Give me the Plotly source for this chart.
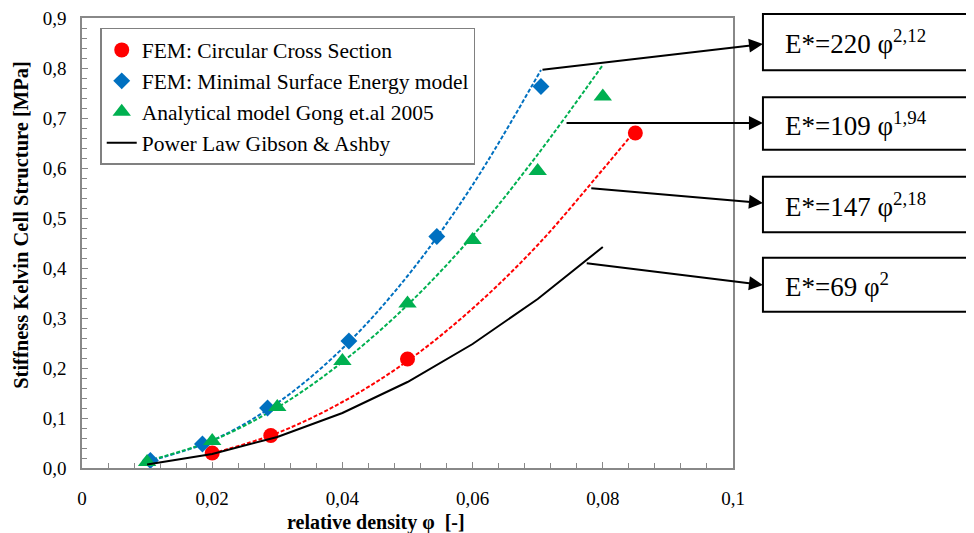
import plotly.graph_objects as go

# ---- data ----
circ_x = [0.020, 0.029, 0.050, 0.085]
circ_y = [0.030, 0.065, 0.218, 0.670]

mse_x = [0.0105, 0.0185, 0.0285, 0.0410, 0.0545, 0.0705]
mse_y = [0.015, 0.048, 0.120, 0.254, 0.463, 0.763]

gong_x = [0.010, 0.020, 0.030, 0.040, 0.050, 0.060, 0.070, 0.080]
gong_y = [0.012, 0.054, 0.122, 0.214, 0.329, 0.456, 0.594, 0.743]

gib_x = [0.010, 0.020, 0.030, 0.040, 0.050, 0.060, 0.070, 0.080]
gib_y = [0.007, 0.028, 0.062, 0.110, 0.172, 0.248, 0.338, 0.442]

# dashed trend lines
trend_circ_x = [0.020, 0.030, 0.040, 0.050, 0.060, 0.070, 0.080, 0.085]
trend_circ_y = [0.029, 0.070, 0.132, 0.214, 0.319, 0.446, 0.597, 0.675]
trend_mse_x = [0.010, 0.020, 0.030, 0.040, 0.050, 0.060, 0.0705]
trend_mse_y = [0.013, 0.055, 0.130, 0.239, 0.384, 0.566, 0.796]
trend_gong_x = [0.010, 0.020, 0.030, 0.040, 0.050, 0.060, 0.070, 0.080]
trend_gong_y = [0.014, 0.055, 0.121, 0.212, 0.326, 0.464, 0.627, 0.806]

names = ["FEM: Circular Cross Section", "FEM: Minimal Surface Energy model",
         "Analytical model Gong et.al 2005", "Power Law Gibson & Ashby"]
eq_base = ["E*=220 φ", "E*=109 φ", "E*=147 φ", "E*=69 φ"]
eq_exp = ["2,12", "1,94", "2,18", "2"]
x_title = "<b>relative density φ  [-]</b>"
y_title = "<b>Stiffness Kelvin Cell Structure [MPa]</b>"

RED = "#ff0000"
BLUE = "#0070c0"
GREEN = "#00b050"
FONT = "Liberation Serif"

fig = go.Figure()

# trend lines
dash = "4px,2px"
fig.add_trace(go.Scatter(x=trend_circ_x, y=trend_circ_y, mode="lines", line=dict(color=RED, width=2, dash=dash, shape="spline"), showlegend=False, hoverinfo="skip"))
fig.add_trace(go.Scatter(x=trend_mse_x, y=trend_mse_y, mode="lines", line=dict(color=BLUE, width=2, dash=dash, shape="spline"), showlegend=False, hoverinfo="skip"))
fig.add_trace(go.Scatter(x=trend_gong_x, y=trend_gong_y, mode="lines", line=dict(color=GREEN, width=2, dash=dash, shape="spline"), showlegend=False, hoverinfo="skip"))

# data series
fig.add_trace(go.Scatter(x=circ_x, y=circ_y, mode="markers", name=names[0],
                         marker=dict(symbol="circle", size=15, color=RED)))
fig.add_trace(go.Scatter(x=mse_x, y=mse_y, mode="markers", name=names[1],
                         marker=dict(symbol="diamond", size=13, color=BLUE)))
fig.add_trace(go.Scatter(x=gong_x, y=gong_y, mode="markers", name=names[2],
                         marker=dict(symbol="triangle-up", size=16, color=GREEN)))
fig.add_trace(go.Scatter(x=gib_x, y=gib_y, mode="lines", name=names[3],
                         line=dict(color="black", width=2)))

# equation boxes and arrows
box_y = [(1.009, 0.884), (0.824, 0.707), (0.647, 0.524), (0.467, 0.347)]
arrow_tail = [(0.0705, 0.796), (0.0742, 0.690), (0.0780, 0.560), (0.0773, 0.410)]
arrow_head_y = [0.848, 0.690, 0.530, 0.366]
for i in range(len(eq_base)):
    y0, y1 = box_y[i]
    fig.add_shape(type="rect", xref="paper", yref="paper", x0=1.046, x1=1.40, y0=y1, y1=y0,
                  line=dict(color="black", width=2), fillcolor="white")
    text = eq_base[i] + "<sup>" + eq_exp[i] + "</sup>"
    fig.add_annotation(xref="paper", yref="paper", x=1.077, y=(y0 + y1) / 2, text=text,
                       showarrow=False, xanchor="left", yanchor="middle",
                       font=dict(family=FONT, size=27, color="black"))
    tx, ty = arrow_tail[i]
    fig.add_annotation(x=0.1046, y=arrow_head_y[i], xref="x", yref="y",
                       ax=tx, ay=ty, axref="x", ayref="y", text="", showarrow=True,
                       arrowhead=2, arrowsize=1.4, arrowwidth=2, arrowcolor="black")

# axis titles as annotations (positioned like the reference)
fig.add_annotation(xref="paper", yref="paper", x=0.4516, y=-0.12, text=x_title,
                   showarrow=False, xanchor="center", yanchor="middle",
                   font=dict(family=FONT, size=20, color="black"))
fig.add_annotation(xref="paper", yref="paper", x=-0.094, y=0.54, text=y_title,
                   showarrow=False, xanchor="center", yanchor="middle", textangle=-90,
                   font=dict(family=FONT, size=20.5, color="black"))

fig.update_layout(
    width=974, height=533,
    margin=dict(l=74, r=249, t=10, b=73),
    paper_bgcolor="white", plot_bgcolor="white",
    separators=", ",
    font=dict(family=FONT, size=16, color="black"),
    legend=dict(x=0.028, y=0.978, xanchor="left", yanchor="top",
                bordercolor="#808080", borderwidth=1.5, bgcolor="white",
                font=dict(family=FONT, size=21.5, color="black"),
                tracegroupgap=0),
    showlegend=True,
)
fig.update_xaxes(range=[0, 0.1], dtick=0.02, tick0=0, showgrid=False, zeroline=False,
                 showline=True, linecolor="#888888", linewidth=1.5, mirror=True,
                 ticks="inside", ticklen=6, tickcolor="#888888", automargin=False,
                 ticklabelstandoff=12, ticklabeloverflow="allow",
                 minor=dict(dtick=0.004, ticks="inside", ticklen=5, tickcolor="#888888"),
                 tickfont=dict(family=FONT, size=19))
fig.update_yaxes(range=[0, 0.9], dtick=0.1, tick0=0, tickformat=".1f", showgrid=False, zeroline=False,
                 showline=True, linecolor="#888888", linewidth=1.5, mirror=True,
                 ticks="inside", ticklen=6, tickcolor="#888888", automargin=False,
                 ticklabelstandoff=10, ticklabeloverflow="allow",
                 minor=dict(dtick=0.02, ticks="inside", ticklen=5, tickcolor="#888888"),
                 tickfont=dict(family=FONT, size=19))

fig.write_html("out.html")
